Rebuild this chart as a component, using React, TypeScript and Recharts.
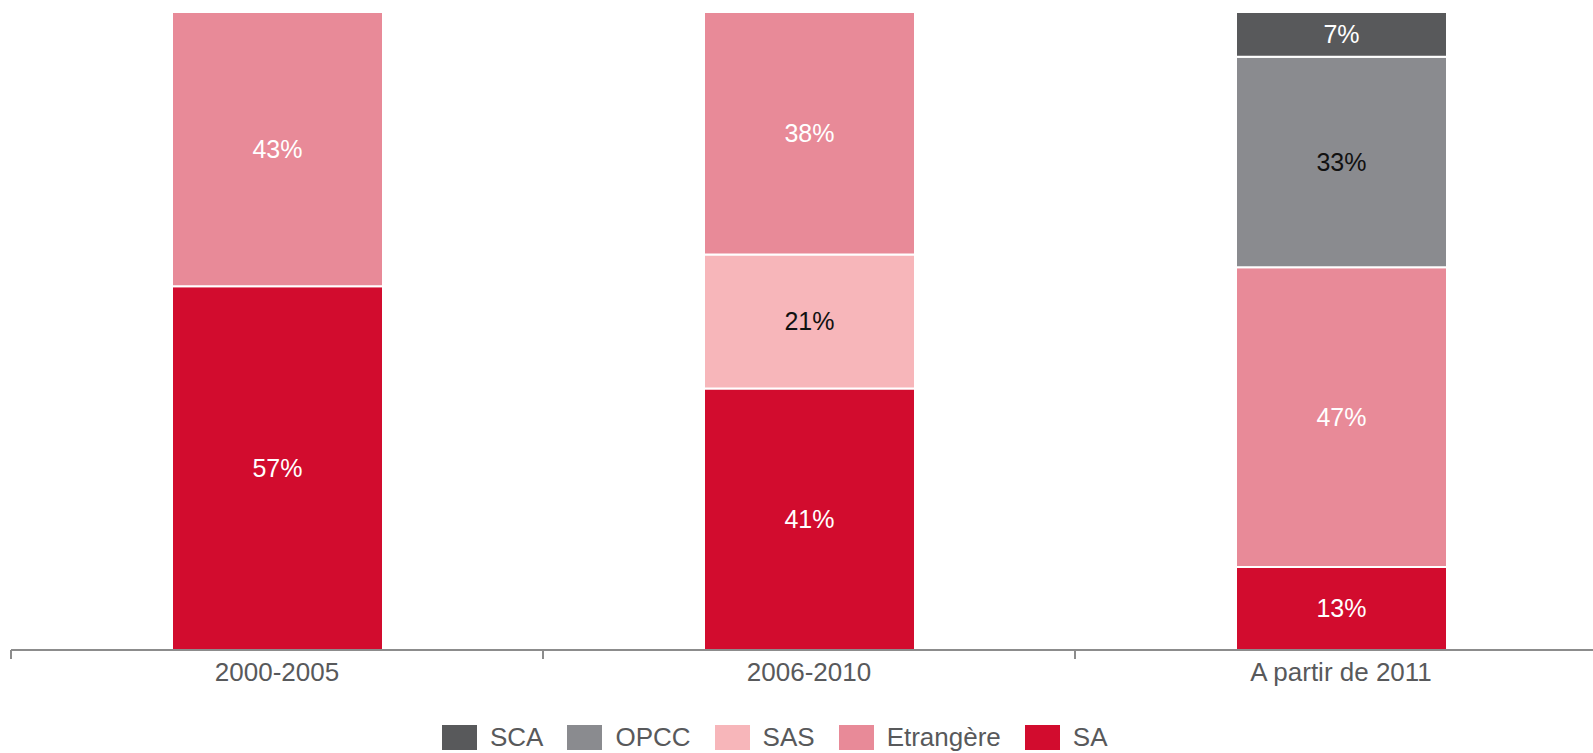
import React from 'react';
import { BarChart, Bar, XAxis, YAxis, LabelList } from 'recharts';

const categories = ['2000-2005', '2006-2010', 'A partir de 2011'];
const saValues = [57, 41, 13];
const sasValues = [null, 21, null];
const etrangereValues = [43, 38, 47];
const opccValues = [null, null, 33];
const scaValues = [null, null, 7];

const FONT = '"Liberation Sans", Arial, Helvetica, sans-serif';
const TEXT_GREY = '#58595b';
const AXIS_GREY = '#8c8c8c';

// stack order bottom -> top
const series = [
  { key: 'SA', color: '#d20c2e', label: '#ffffff' },
  { key: 'SAS', color: '#f7b6ba', label: '#111111' },
  { key: 'Etrangère', color: '#e88a98', label: '#ffffff' },
  { key: 'OPCC', color: '#8a8b8f', label: '#111111' },
  { key: 'SCA', color: '#58595b', label: '#ffffff' },
];

// legend order as in the original
const legendOrder = ['SCA', 'OPCC', 'SAS', 'Etrangère', 'SA'];

const data = categories.map((name, i) => ({
  name,
  idx: i + 0.5,
  SA: saValues[i],
  SAS: sasValues[i],
  'Etrangère': etrangereValues[i],
  OPCC: opccValues[i],
  SCA: scaValues[i],
}));

const LegendBox = () => (
  <div
    style={{
      position: 'absolute',
      left: 442,
      top: 723,
      display: 'flex',
      alignItems: 'center',
      fontFamily: FONT,
      fontSize: 26,
      lineHeight: '28px',
      color: TEXT_GREY,
    }}
  >
    {legendOrder.map((k) => {
      const s = series.find((x) => x.key === k)!;
      return (
        <div key={k} style={{ display: 'flex', alignItems: 'center', marginRight: 24 }}>
          <div style={{ width: 35, height: 25, background: s.color, marginRight: 13 }} />
          <span>{k}</span>
        </div>
      );
    })}
  </div>
);

const App = () => {
  return (
    <div
      style={{
        position: 'fixed',
        left: 0,
        top: 0,
        width: 1593,
        height: 753,
        overflow: 'hidden',
        background: '#fff',
      }}
    >
      <BarChart
        width={1607}
        height={753}
        data={data}
        margin={{ top: 12, right: 0, left: 11, bottom: 72 }}
        barSize={211}
      >
        {/* boundary ticks between categories */}
        <XAxis
          xAxisId="bounds"
          type="number"
          dataKey="idx"
          domain={[0, 3]}
          ticks={[0, 1, 2, 3]}
          interval={0}
          tick={() => <g />}
          tickSize={9}
          height={1}
          axisLine={{ stroke: AXIS_GREY, strokeWidth: 2 }}
          tickLine={{ stroke: AXIS_GREY, strokeWidth: 2 }}
        />
        <XAxis
          xAxisId="cat"
          dataKey="name"
          axisLine={false}
          tickLine={false}
          tickMargin={6}
          height={30}
          tick={{ fill: TEXT_GREY, fontSize: 26, fontFamily: FONT }}
        />
        <YAxis hide domain={[0, 100]} />
        {series.map((s) => (
          <Bar
            key={s.key}
            xAxisId="cat"
            dataKey={s.key}
            stackId="a"
            fill={s.color}
            stroke="#ffffff"
            strokeWidth={2}
            isAnimationActive={false}
          >
            <LabelList
              dataKey={s.key}
              position="center"
              fill={s.label}
              fontSize={25}
              fontFamily={FONT}
              formatter={(v: any) => (v ? `${v}%` : '')}
            />
          </Bar>
        ))}
      </BarChart>
      <LegendBox />
    </div>
  );
};

export default App;
